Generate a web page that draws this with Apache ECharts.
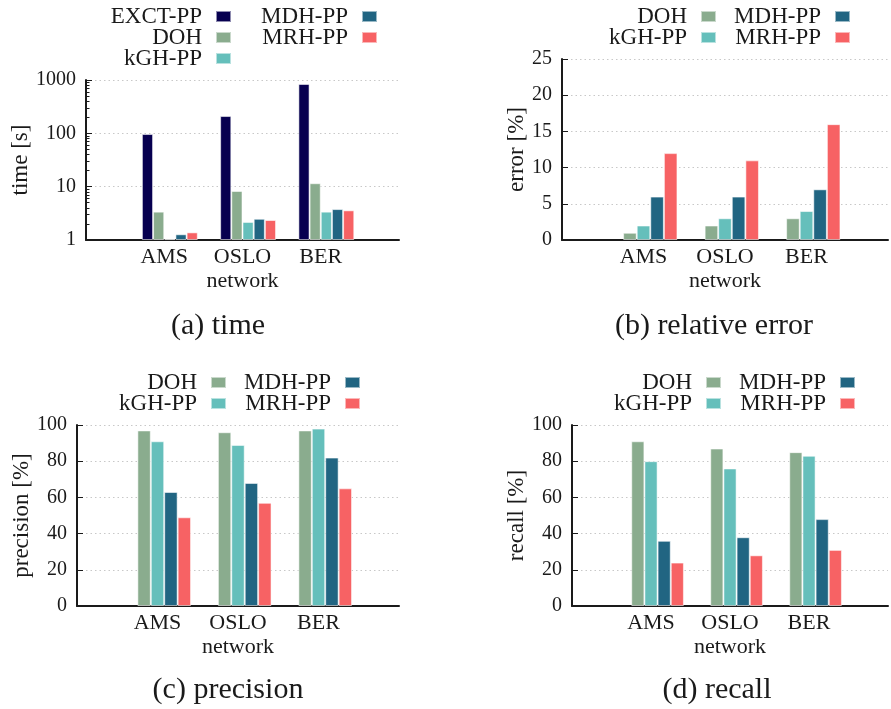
<!DOCTYPE html>
<html>
<head>
<meta charset="utf-8">
<script src="https://cdn.jsdelivr.net/npm/echarts@6/dist/echarts.min.js"></script>
<style>
  html, body { margin: 0; padding: 0; background: #fff; }
  #chart { width: 891px; height: 709px; }
</style>
</head>
<body>
<div id="chart"></div>
<script>
// Networks compared in every panel
const categories = ['AMS', 'OSLO', 'BER'];

// (a) running time in seconds (log scale)
const timeExct = [97, 211, 842];
const timeDoh  = [3.4, 8.3, 11.6];
const timeKgh  = [1.04, 2.18, 3.4];
const timeMdh  = [1.28, 2.5, 3.8];
const timeMrh  = [1.39, 2.37, 3.6];
const timeMinorTicks = [2, 3, 4, 5, 6, 7, 8, 9, 20, 30, 40, 50, 60, 70, 80, 90, 200, 300, 400, 500, 600, 700, 800, 900];

// (b) relative error in percent
const errDoh = [1, 2, 3];
const errKgh = [2, 3, 4];
const errMdh = [6, 6, 7];
const errMrh = [12, 11, 16];

// (c) precision in percent
const precDoh = [97, 96, 97];
const precKgh = [91, 89, 98];
const precMdh = [63, 68, 82];
const precMrh = [49, 57, 65];

// (d) recall in percent
const recDoh = [91, 87, 85];
const recKgh = [80, 76, 83];
const recMdh = [36, 38, 48];
const recMrh = [24, 28, 31];

const FONT = '"Liberation Serif", "DejaVu Serif", serif';
const INK = '#1a1a1a';
const COLORS = {
  'EXCT-PP': '#070050',
  'DOH': '#8aac8e',
  'kGH-PP': '#65bfbb',
  'MDH-PP': '#216582',
  'MRH-PP': '#f76264'
};

// empty categories pad the axis on both sides of the three networks
const axisCats = [''].concat(categories, ['']);
const padded = vals => [null].concat(vals, [null]);

const chart = echarts.init(document.getElementById('chart'), null, { renderer: 'canvas' });

const grids = [
  { left: 86, right: 492, top: 80, bottom: 469 },
  { left: 562, right: -4, top: 59, bottom: 469 },
  { left: 77, right: 492, top: 425, bottom: 103 },
  { left: 572, right: -4, top: 425, bottom: 103 }
];

function xAxisFor(gi) {
  return {
    type: 'category', gridIndex: gi, data: axisCats, boundaryGap: false,
    axisLine: { lineStyle: { color: INK, width: 2 } },
    axisTick: { show: false },
    axisLabel: { fontFamily: FONT, fontSize: 22, color: INK, margin: 6, interval: 0 },
    splitLine: { show: false },
    name: 'network', nameLocation: 'middle', nameGap: 30,
    nameTextStyle: { fontFamily: FONT, fontSize: 22, color: INK }
  };
}

function yAxisFor(gi, name, nameGap, extra) {
  return Object.assign({
    gridIndex: gi, type: 'value',
    axisLine: { show: true, lineStyle: { color: INK, width: 2 } },
    axisTick: { show: true, inside: true, length: 6, lineStyle: { color: INK } },
    axisLabel: { fontFamily: FONT, fontSize: 20, color: INK, margin: 10 },
    splitLine: { show: true, lineStyle: { color: '#c8c8c8', type: [1.5, 3], width: 1 } },
    name: name, nameLocation: 'middle', nameGap: nameGap,
    nameTextStyle: { fontFamily: FONT, fontSize: 23, color: INK }
  }, extra);
}

const yAxes = [
  yAxisFor(0, 'time [s]', 50, {
    type: 'log', logBase: 10, min: 1, max: 1000,
    axisLabel: { fontFamily: FONT, fontSize: 20, color: INK, margin: 10, formatter: v => String(v) }
  }),
  yAxisFor(1, 'error [%]', 34, { min: 0, max: 25, interval: 5 }),
  yAxisFor(2, 'precision [%]', 42, { min: 0, max: 100, interval: 20 }),
  yAxisFor(3, 'recall [%]', 44, { min: 0, max: 100, interval: 20 }),
  // minor ticks of the time axis, placed on its decade exponent (0..3)
  {
    gridIndex: 0, type: 'value', min: 0, max: 3, position: 'left',
    axisLine: { show: false }, axisLabel: { show: false }, splitLine: { show: false },
    axisTick: { show: true, inside: true, length: 3.5, customValues: timeMinorTicks.map(Math.log10), lineStyle: { color: INK } }
  }
];

const series = [];
function addBars(gi, yi, entries, slots) {
  const common = {
    type: 'bar', xAxisIndex: gi, yAxisIndex: yi,
    barGap: '0%', barCategoryGap: (100 / (slots + 1)) + '%',
    silent: true
  };
  // leading empty slot keeps the cluster layout of the full method set
  series.push(Object.assign({ data: padded([null, null, null]) }, common));
  entries.forEach(([name, vals]) => {
    series.push(Object.assign({
      name: name, data: padded(vals),
      itemStyle: { color: COLORS[name], borderColor: 'rgba(255,255,255,0.55)', borderWidth: 1 }
    }, common));
  });
}

addBars(0, 0, [['EXCT-PP', timeExct], ['DOH', timeDoh], ['kGH-PP', timeKgh], ['MDH-PP', timeMdh], ['MRH-PP', timeMrh]], 6);
addBars(1, 1, [['DOH', errDoh], ['kGH-PP', errKgh], ['MDH-PP', errMdh], ['MRH-PP', errMrh]], 5);
addBars(2, 2, [['DOH', precDoh], ['kGH-PP', precKgh], ['MDH-PP', precMdh], ['MRH-PP', precMrh]], 5);
addBars(3, 3, [['DOH', recDoh], ['kGH-PP', recKgh], ['MDH-PP', recMdh], ['MRH-PP', recMrh]], 5);

// one legend entry per block so that labels line up on their right edge
function legendEntry(name, swatchRight, rowCenter) {
  return {
    data: [name], right: 891 - swatchRight, top: rowCenter - 10,
    align: 'right', icon: 'rect', itemWidth: 15, itemHeight: 11, padding: 0,
    selectedMode: false,
    textStyle: { fontFamily: FONT, fontSize: 23, color: INK, lineHeight: 20, padding: [0, 9, 0, 0] }
  };
}

const legends = [
  legendEntry('EXCT-PP', 232, 15), legendEntry('DOH', 232, 36), legendEntry('kGH-PP', 232, 57),
  legendEntry('MDH-PP', 378, 15), legendEntry('MRH-PP', 378, 36),
  legendEntry('DOH', 717, 15), legendEntry('kGH-PP', 717, 36),
  legendEntry('MDH-PP', 851, 15), legendEntry('MRH-PP', 851, 36),
  legendEntry('DOH', 227, 381), legendEntry('kGH-PP', 227, 402),
  legendEntry('MDH-PP', 361, 381), legendEntry('MRH-PP', 361, 402),
  legendEntry('DOH', 722, 381), legendEntry('kGH-PP', 722, 402),
  legendEntry('MDH-PP', 856, 381), legendEntry('MRH-PP', 856, 402)
];

function caption(text, cx, cy) {
  return {
    type: 'text', x: cx, y: cy, silent: true,
    style: { text: text, font: '30px ' + FONT, fill: INK, align: 'center', verticalAlign: 'middle', textAlign: 'center', textVerticalAlign: 'middle' }
  };
}

chart.setOption({
  animation: false,
  backgroundColor: '#fff',
  grid: grids,
  xAxis: [xAxisFor(0), xAxisFor(1), xAxisFor(2), xAxisFor(3)],
  yAxis: yAxes,
  legend: legends,
  series: series,
  graphic: [
    caption('(a) time', 218, 326),
    caption('(b) relative error', 714, 326),
    caption('(c) precision', 228, 690),
    caption('(d) recall', 717, 690)
  ]
});
</script>
</body>
</html>
